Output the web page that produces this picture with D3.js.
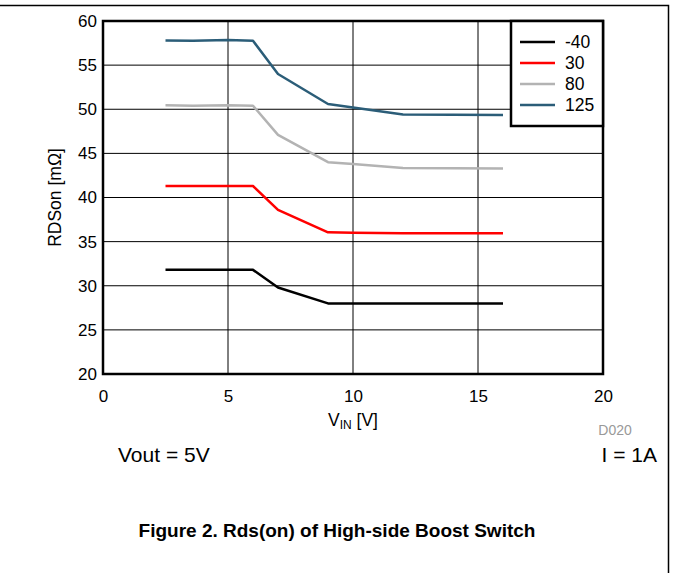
<!DOCTYPE html>
<html>
<head>
<meta charset="utf-8">
<script src="https://cdn.jsdelivr.net/npm/d3@7.9.0/dist/d3.min.js"></script>
<style>
  body { margin: 0; background: #fff; }
  text { font-family: "Liberation Sans", Arial, sans-serif; }
</style>
</head>
<body>
<svg width="673" height="573"></svg>
<script>
// data
const vin = [2.5, 3.6, 5, 6, 7, 9, 10, 12, 16];
const temps = ['-40', '30', '80', '125'];
const rdsM40 = [31.8, 31.8, 31.8, 31.8, 29.8, 28.0, 28.0, 28.0, 28.0];
const rds30 = [41.3, 41.3, 41.3, 41.3, 38.6, 36.05, 36.0, 35.95, 35.95];
const rds80 = [50.45, 50.4, 50.45, 50.4, 47.1, 44.0, 43.8, 43.35, 43.3];
const rds125 = [57.8, 57.75, 57.85, 57.75, 54.0, 50.6, 50.2, 49.4, 49.35];
const xTicks = [0, 5, 10, 15, 20];
const yTicks = [20, 25, 30, 35, 40, 45, 50, 55, 60];
const colors = ['#000000', '#ff0000', '#b3b3b3', '#2b5d78'];

const series = [rdsM40, rds30, rds80, rds125];

const svg = d3.select('svg');

// outer frame (top and right edges)
svg.append('path')
  .attr('d', 'M0,5.5H668.5V573')
  .attr('fill', 'none').attr('stroke', '#000').attr('stroke-width', 1.5);

const x = d3.scaleLinear().domain([0, 20]).range([103, 603]);
const y = d3.scaleLinear().domain([20, 60]).range([374, 21]);

// grid
svg.append('g').selectAll('line').data(xTicks.slice(1, -1)).join('line')
  .attr('x1', d => x(d)).attr('x2', d => x(d))
  .attr('y1', y(20)).attr('y2', y(60))
  .attr('stroke', '#000').attr('stroke-width', 1);
svg.append('g').selectAll('line').data(yTicks.slice(1, -1)).join('line')
  .attr('x1', x(0)).attr('x2', x(20))
  .attr('y1', d => y(d)).attr('y2', d => y(d))
  .attr('stroke', '#000').attr('stroke-width', 1);

// axes tick labels
const xAxis = d3.axisBottom(x).tickValues(xTicks).tickSize(0).tickPadding(16);
const gx = svg.append('g').attr('transform', `translate(0,${y(20)})`).call(xAxis);
gx.select('.domain').remove();
gx.selectAll('text').attr('font-size', 17).attr('font-family', '"Liberation Sans", Arial, sans-serif').attr('fill', '#000');

const yAxis = d3.axisLeft(y).tickValues(yTicks).tickSize(0).tickPadding(6);
const gy = svg.append('g').attr('transform', `translate(${x(0)},0)`).call(yAxis);
gy.select('.domain').remove();
gy.selectAll('text').attr('font-size', 17).attr('font-family', '"Liberation Sans", Arial, sans-serif').attr('fill', '#000');

// lines
const line = d3.line().x((d, i) => x(vin[i])).y(d => y(d));
series.forEach((s, i) => {
  svg.append('path')
    .datum(s)
    .attr('d', line)
    .attr('fill', 'none')
    .attr('stroke', colors[i])
    .attr('stroke-width', 2.5)
    .attr('stroke-linejoin', 'round');
});

// plot frame
svg.append('rect')
  .attr('x', x(0)).attr('y', y(60))
  .attr('width', x(20) - x(0)).attr('height', y(20) - y(60))
  .attr('fill', 'none').attr('stroke', '#000').attr('stroke-width', 2.5);

// legend
const lg = svg.append('g');
lg.append('rect')
  .attr('x', 511).attr('y', y(60))
  .attr('width', x(20) - 511).attr('height', 105)
  .attr('fill', '#fff').attr('stroke', '#000').attr('stroke-width', 2.5);
temps.forEach((t, i) => {
  const ly = 42 + i * 21;
  lg.append('line')
    .attr('x1', 520).attr('x2', 555).attr('y1', ly).attr('y2', ly)
    .attr('stroke', colors[i]).attr('stroke-width', 2.5);
  lg.append('text')
    .attr('x', 565).attr('y', ly + 6)
    .attr('font-size', 17.5)
    .text(t);
});

// axis titles
svg.append('text')
  .attr('transform', `translate(61,${(y(20) + y(60)) / 2}) rotate(-90)`)
  .attr('text-anchor', 'middle')
  .attr('font-size', 17.5)
  .text('RDSon [mΩ]');

const xt = svg.append('text')
  .attr('x', x(10)).attr('y', 426)
  .attr('text-anchor', 'middle')
  .attr('font-size', 17.5);
xt.append('tspan').text('V');
xt.append('tspan').attr('font-size', 12).attr('dy', 3).text('IN');
xt.append('tspan').attr('dy', -3).text(' [V]');

svg.append('text')
  .attr('x', 615).attr('y', 435)
  .attr('text-anchor', 'middle')
  .attr('font-size', 14)
  .attr('fill', '#999')
  .text('D020');

svg.append('text')
  .attr('x', 118).attr('y', 462)
  .attr('font-size', 21)
  .text('Vout = 5V');

svg.append('text')
  .attr('x', 657).attr('y', 462)
  .attr('text-anchor', 'end')
  .attr('font-size', 21)
  .text('I = 1A');

svg.append('text')
  .attr('x', 337).attr('y', 537)
  .attr('text-anchor', 'middle')
  .attr('font-size', 19)
  .attr('font-weight', 'bold')
  .text('Figure 2. Rds(on) of High-side Boost Switch');
</script>
</body>
</html>
